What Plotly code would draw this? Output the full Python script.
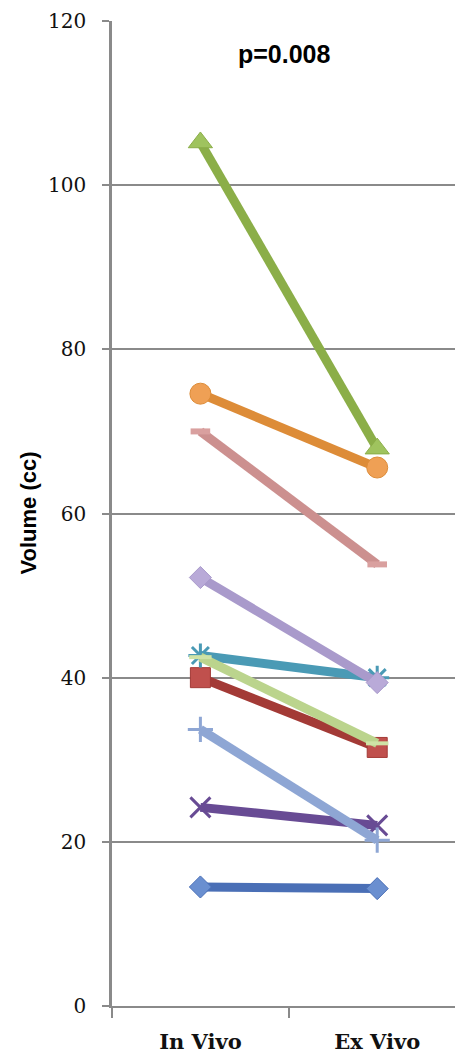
import plotly.graph_objects as go

# Paired volume measurements (cc) for each specimen
conditions = ["In Vivo", "Ex Vivo"]
in_vivo = [14.5, 40.0, 105.2, 24.2, 42.7, 74.6, 33.7, 70.0, 52.2, 42.5]
ex_vivo = [14.3, 31.5, 67.9, 22.0, 40.0, 65.6, 20.2, 53.8, 39.4, 32.0]
specimens = [f"Specimen {i}" for i in range(1, 11)]

y_ticks = [0, 20, 40, 60, 80, 100, 120]
p_label = "p=0.008"

# Per-series styling: line colour, marker colour, symbol, size, marker outline width
styles = [
    ("#4A6FB6", "#6A8FD0", "diamond", 17, 1),
    ("#A33A36", "#C0504D", "square", 20, 1),
    ("#8BAE48", "#9FC35E", "triangle-up", 21, 1),
    ("#684B94", "#684B94", "x-thin-open", 20, 3),
    ("#4A9AB5", "#4A9AB5", "asterisk-open", 20, 3),
    ("#DD8C38", "#EFA055", "circle", 21, 1),
    ("#8EA6D4", "#8EA6D4", "cross-thin-open", 18, 3),
    ("#CC908F", "#D9A09F", "line-ew-open", 14, 6),
    ("#A99ACB", "#B9AAD8", "diamond", 17, 1),
    ("#BBD48D", "#CFE3A6", "line-ew-open", 16, 4),
]

fig = go.Figure()
for name, a, b, (lc, mc, sym, size, mlw) in zip(specimens, in_vivo, ex_vivo, styles):
    open_symbol = sym.endswith("open")
    fig.add_trace(go.Scatter(
        x=conditions,
        y=[a, b],
        name=name,
        mode="lines+markers",
        line=dict(color=lc, width=9),
        marker=dict(
            symbol=sym,
            size=size,
            color=mc,
            line=dict(color=mc if open_symbol else lc, width=mlw),
        ),
        showlegend=False,
    ))

grid_gray = "#8A8A8A"

fig.update_layout(
    width=455,
    height=1055,
    autosize=False,
    margin=dict(l=112, r=0, t=21, b=49),
    plot_bgcolor="white",
    paper_bgcolor="white",
    xaxis=dict(
        type="category",
        categoryorder="array",
        categoryarray=conditions,
        range=[-0.5, 1.44],
        showline=True,
        linecolor=grid_gray,
        linewidth=2,
        showgrid=False,
        ticks="outside",
        tickson="boundaries",
        ticklen=10,
        tickwidth=2,
        tickcolor=grid_gray,
        ticklabelstandoff=16,
        tickfont=dict(family="DejaVu Serif", size=21, color="#111111", weight="bold"),
    ),
    yaxis=dict(
        range=[0, 120],
        tickvals=y_ticks,
        showline=True,
        linecolor=grid_gray,
        linewidth=2.5,
        showgrid=True,
        gridcolor=grid_gray,
        gridwidth=1.5,
        zeroline=False,
        ticks="outside",
        ticklen=7,
        tickwidth=1.5,
        tickcolor=grid_gray,
        ticklabelstandoff=12,
        tickfont=dict(family="DejaVu Serif", size=20, color="#111111"),
    ),
    annotations=[
        dict(
            text=p_label,
            xref="paper", yref="paper",
            x=(284 - 112) / 343, y=1 - (54 - 21) / 985,
            xanchor="center", yanchor="middle",
            showarrow=False,
            font=dict(family="Liberation Sans", size=25, color="#000000", weight="bold"),
        ),
        dict(
            text="Volume (cc)",
            xref="paper", yref="paper",
            x=(28 - 112) / 343, y=0.5,
            xanchor="center", yanchor="middle",
            textangle=-90,
            showarrow=False,
            font=dict(family="Liberation Sans", size=22, color="#000000", weight="bold"),
        ),
    ],
)

fig.write_html("out.html")
